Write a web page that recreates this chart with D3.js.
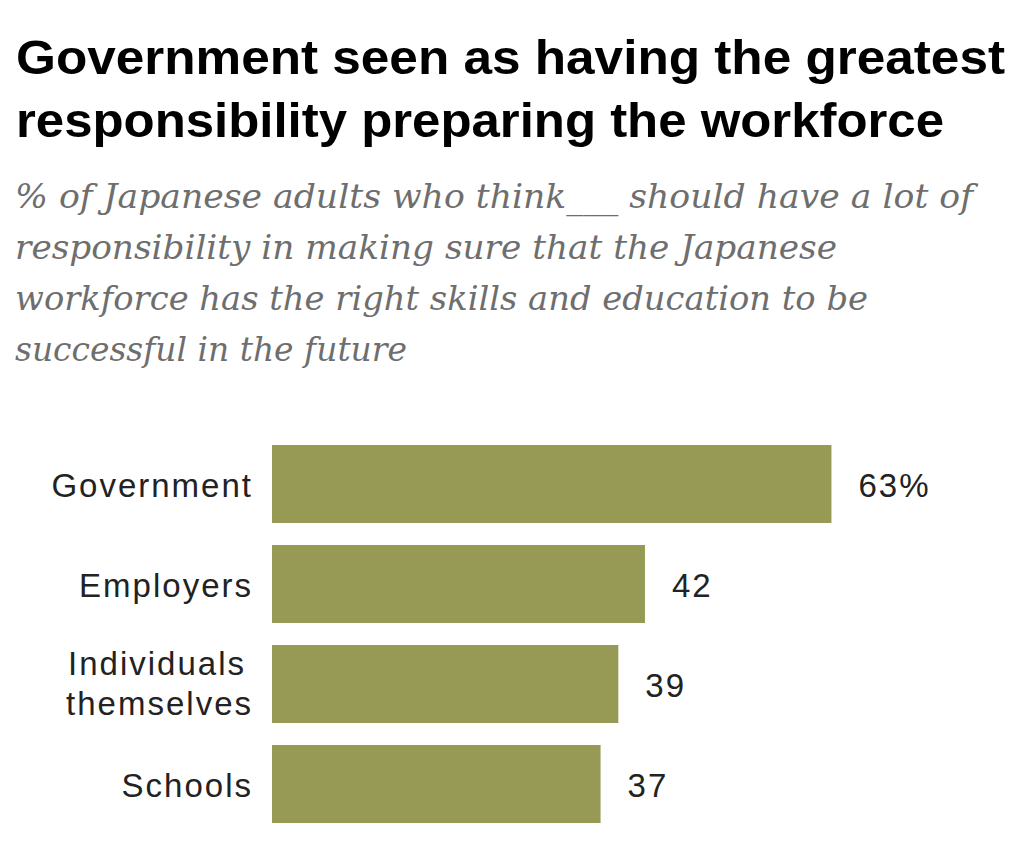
<!DOCTYPE html>
<html>
<head>
<meta charset="utf-8">
<script src="https://cdn.jsdelivr.net/npm/d3@7"></script>
<style>
  body { margin: 0; background: #fff; }
  svg { display: block; }
</style>
</head>
<body>
<div id="chart"></div>
<script>
// chart data
const categories = ["Government", "Employers", "Individuals themselves", "Schools"];
const values = [63, 42, 39, 37];
const valueLabels = ["63%", "42", "39", "37"];
const titleLines = [
    "Government seen as having the greatest",
    "responsibility preparing the workforce"
];
const subtitleLines = [
    "% of Japanese adults who think___ should have a lot of",
    "responsibility in making sure that the Japanese",
    "workforce has the right skills and education to be",
    "successful in the future"
];

const width = 1032;
const height = 855;

const svg = d3.select("#chart")
    .append("svg")
    .attr("width", width)
    .attr("height", height);

// title, squeezed to the widths measured on the reference
const titleWidths = [989, 928];
svg.selectAll("text.title")
    .data(titleLines)
    .enter()
    .append("text")
    .attr("class", "title")
    .attr("x", 16)
    .attr("y", (d, i) => 74 + i * 63)
    .attr("textLength", (d, i) => titleWidths[i])
    .attr("lengthAdjust", "spacingAndGlyphs")
    .style("font-family", "'Liberation Sans', Arial, sans-serif")
    .style("font-weight", "bold")
    .style("font-size", "49px")
    .style("fill", "#000")
    .text(d => d);

const subWidths = [958, 822, 853, 392];
svg.selectAll("text.subtitle")
    .data(subtitleLines)
    .enter()
    .append("text")
    .attr("class", "subtitle")
    .attr("x", 15)
    .attr("y", (d, i) => 208 + i * 51)
    .attr("textLength", (d, i) => subWidths[i])
    .attr("lengthAdjust", "spacingAndGlyphs")
    .style("font-family", "'DejaVu Serif', Georgia, serif")
    .style("font-style", "italic")
    .style("font-size", "33px")
    .style("fill", "#6e6e6e")
    .text(d => d);

// scales
const x = d3.scaleLinear()
    .domain([0, 100])
    .range([272, 1160]);

const y = d3.scaleBand()
    .domain(categories)
    .range([445, 823])
    .paddingInner(0.22)
    .paddingOuter(0);

const rows = categories.map((c, i) => ({cat: c, value: values[i], label: valueLabels[i]}));

const g = svg.append("g");

g.selectAll("rect.bar")
    .data(rows)
    .enter()
    .append("rect")
    .attr("class", "bar")
    .attr("x", x(0))
    .attr("y", d => y(d.cat))
    .attr("width", d => x(d.value) - x(0))
    .attr("height", y.bandwidth())
    .attr("fill", "#969a55");

// value labels
g.selectAll("text.value")
    .data(rows)
    .enter()
    .append("text")
    .attr("class", "value")
    .attr("x", d => x(d.value) + 27)
    .attr("y", d => y(d.cat) + y.bandwidth() / 2 + 13)
    .style("font-family", "'Liberation Sans', Arial, sans-serif")
    .style("font-size", "33px")
    .style("letter-spacing", "2px")
    .style("fill", "#222")
    .text(d => d.label);

// category labels, two-word names wrap onto two lines
const catText = g.selectAll("text.cat")
    .data(rows)
    .enter()
    .append("text")
    .attr("class", "cat")
    .attr("text-anchor", "end")
    .style("font-family", "'Liberation Sans', Arial, sans-serif")
    .style("font-size", "33px")
    .style("letter-spacing", "2px")
    .style("fill", "#222");

catText.each(function(d) {
    const words = d.cat.split(" ");
    const mid = y(d.cat) + y.bandwidth() / 2;
    const t = d3.select(this);
    if (words.length == 1) {
        t.append("tspan").attr("x", 253).attr("y", mid + 13).text(words[0]);
    } else {
        words.forEach((w, i) => {
            t.append("tspan")
                .attr("x", i == 0 ? 246 : 253)
                .attr("y", mid - 9 + i * 40)
                .text(w);
        });
    }
});
</script>
</body>
</html>
